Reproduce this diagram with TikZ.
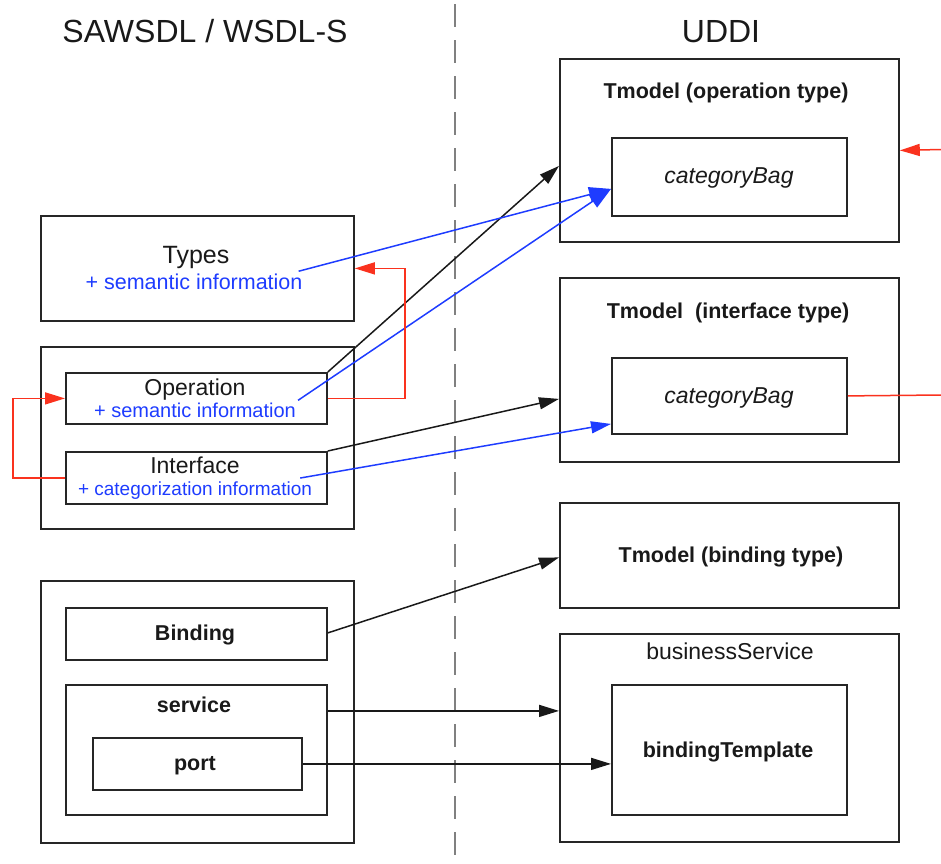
\documentclass[tikz,border=0pt]{standalone}
\usepackage{fontspec}
\setmainfont{Liberation Sans}
\usetikzlibrary{arrows.meta}

\definecolor{linkred}{RGB}{250,50,30}
\definecolor{linkblue}{RGB}{30,60,255}
\definecolor{divider}{RGB}{128,128,128}

\tikzset{
  box/.style={draw=black!85, line width=1.8pt, fill=none, anchor=north west, inner sep=0pt},
  lbl/.style={anchor=base, inner sep=0pt, text=black!90, font=\fontsize{23}{26}\selectfont},
  blbl/.style={lbl, font=\fontsize{21.5}{24}\selectfont\bfseries},
  tlbl/.style={lbl, font=\fontsize{21.5}{24}\selectfont\bfseries},
  info/.style={anchor=base, inner sep=0pt, text=linkblue},
  conn/.style={line width=1.5pt, -{Triangle[length=20pt,width=12pt]}},
  blk/.style={conn, draw=black!90},
  blu/.style={conn, draw=linkblue},
  rd/.style={conn, draw=linkred},
}

\begin{document}
\begin{tikzpicture}[x=1pt, y=-1pt]
\useasboundingbox (0,0) rectangle (941,863);

% separator between the two worlds
\draw[divider, line width=2.5pt, dash pattern=on 23pt off 13pt] (455,4) -- (455,863);

% column headings
\node[lbl, font=\fontsize{32}{36}\selectfont] (hleft) at (205,42) {SAWSDL / WSDL-S};
\node[lbl, font=\fontsize{32}{36}\selectfont] (hright) at (721,42) {UDDI};

% ---------- SAWSDL side ----------
\node[box, minimum width=313pt, minimum height=105pt] (types) at (40,215) {};
\node[lbl, font=\fontsize{25}{28}\selectfont] (typesname) at (196,263) {Types};
\node[info, font=\fontsize{21.5}{24}\selectfont] (typesinfo) at (194,289) {+ semantic information};

\node[box, minimum width=313pt, minimum height=182pt] (opgroup) at (40,346) {};
\node[box, minimum width=261pt, minimum height=51pt] (op) at (65,372) {};
\node[lbl] (opname) at (195,395) {Operation};
\node[info, font=\fontsize{20}{23}\selectfont] (opinfo) at (195,417) {+ semantic information};

\node[box, minimum width=261pt, minimum height=52pt] (iface) at (65,451) {};
\node[lbl] (ifname) at (195,473) {Interface};
\node[info, font=\fontsize{19}{22}\selectfont] (ifinfo) at (195,495) {+ categorization information};

\node[box, minimum width=313pt, minimum height=262pt] (bindgroup) at (40,580) {};
\node[box, minimum width=261pt, minimum height=52pt] (binding) at (65,607) {};
\node[blbl] (bindname) at (195,640) {Binding};
\node[box, minimum width=261pt, minimum height=130pt] (service) at (65,684) {};
\node[blbl] (servname) at (194,712) {service};
\node[box, minimum width=209pt, minimum height=52pt] (port) at (92,737) {};
\node[blbl] (portname) at (195,770) {port};

% ---------- UDDI side ----------
\node[box, minimum width=339pt, minimum height=183pt] (tmop) at (559,58) {};
\node[tlbl] (tmopname) at (726,98) {Tmodel (operation type)};
\node[box, minimum width=235pt, minimum height=78pt] (cbop) at (611,137) {};
\node[lbl, font=\fontsize{23}{26}\selectfont\itshape] (cbopname) at (729,183) {categoryBag};

\node[box, minimum width=339pt, minimum height=184pt] (tmif) at (559,277) {};
\node[tlbl] (tmifname) at (728,318) {Tmodel~ (interface type)};
\node[box, minimum width=235pt, minimum height=76pt] (cbif) at (611,357) {};
\node[lbl, font=\fontsize{23}{26}\selectfont\itshape] (cbifname) at (729,403) {categoryBag};

\node[box, minimum width=339pt, minimum height=105pt] (tmbind) at (559,502) {};
\node[tlbl] (tmbindname) at (731,562) {Tmodel (binding type)};

\node[box, minimum width=339pt, minimum height=208pt] (bserv) at (559,633) {};
\node[lbl] (bservname) at (730,659) {businessService};
\node[box, minimum width=235pt, minimum height=130pt] (btpl) at (611,684) {};
\node[blbl] (btplname) at (728,757) {bindingTemplate};

% loose ends at the right margin
\coordinate (redin) at (941,149.5);
\coordinate (redout) at (941,395);

% ---------- mappings ----------
\draw[blk] (op.north east) -- ([yshift=-15.5pt]tmop.west);
\draw[blu, -{Triangle[length=22pt,width=15pt]}] ([xshift=-4pt,yshift=2pt]typesinfo.north east) -- ([yshift=-12pt]cbop.west);
\draw[blu, -{Triangle[length=22pt,width=15pt]}] ([xshift=2pt,yshift=2pt]opinfo.north east) -- ([yshift=-12pt]cbop.west);

\draw[blk] (iface.north east) -- ([yshift=-29pt]tmif.west);
\draw[blu] ([xshift=-12pt,yshift=3pt]ifinfo.north east) -- ([yshift=-28pt]cbif.west);

\draw[blk] ([yshift=1pt]binding.east) -- ([yshift=-2pt]tmbind.west);
\draw[blk] ([yshift=39pt]service.east) coordinate (s1) -- (s1 -| bserv.west);
\draw[blk] (port.east) -- (port.east -| btpl.west);

% internal references
\draw[rd] (iface.west) -- ++(-52,0) |- (op.west);
\draw[rd] (op.east) -| ([xshift=50pt]types.east) -- (types.east);
\draw[rd] (redin) -- (tmop.east);
\draw[linkred, line width=1.5pt] (cbif.east) -- (redout);
\end{tikzpicture}
\end{document}
